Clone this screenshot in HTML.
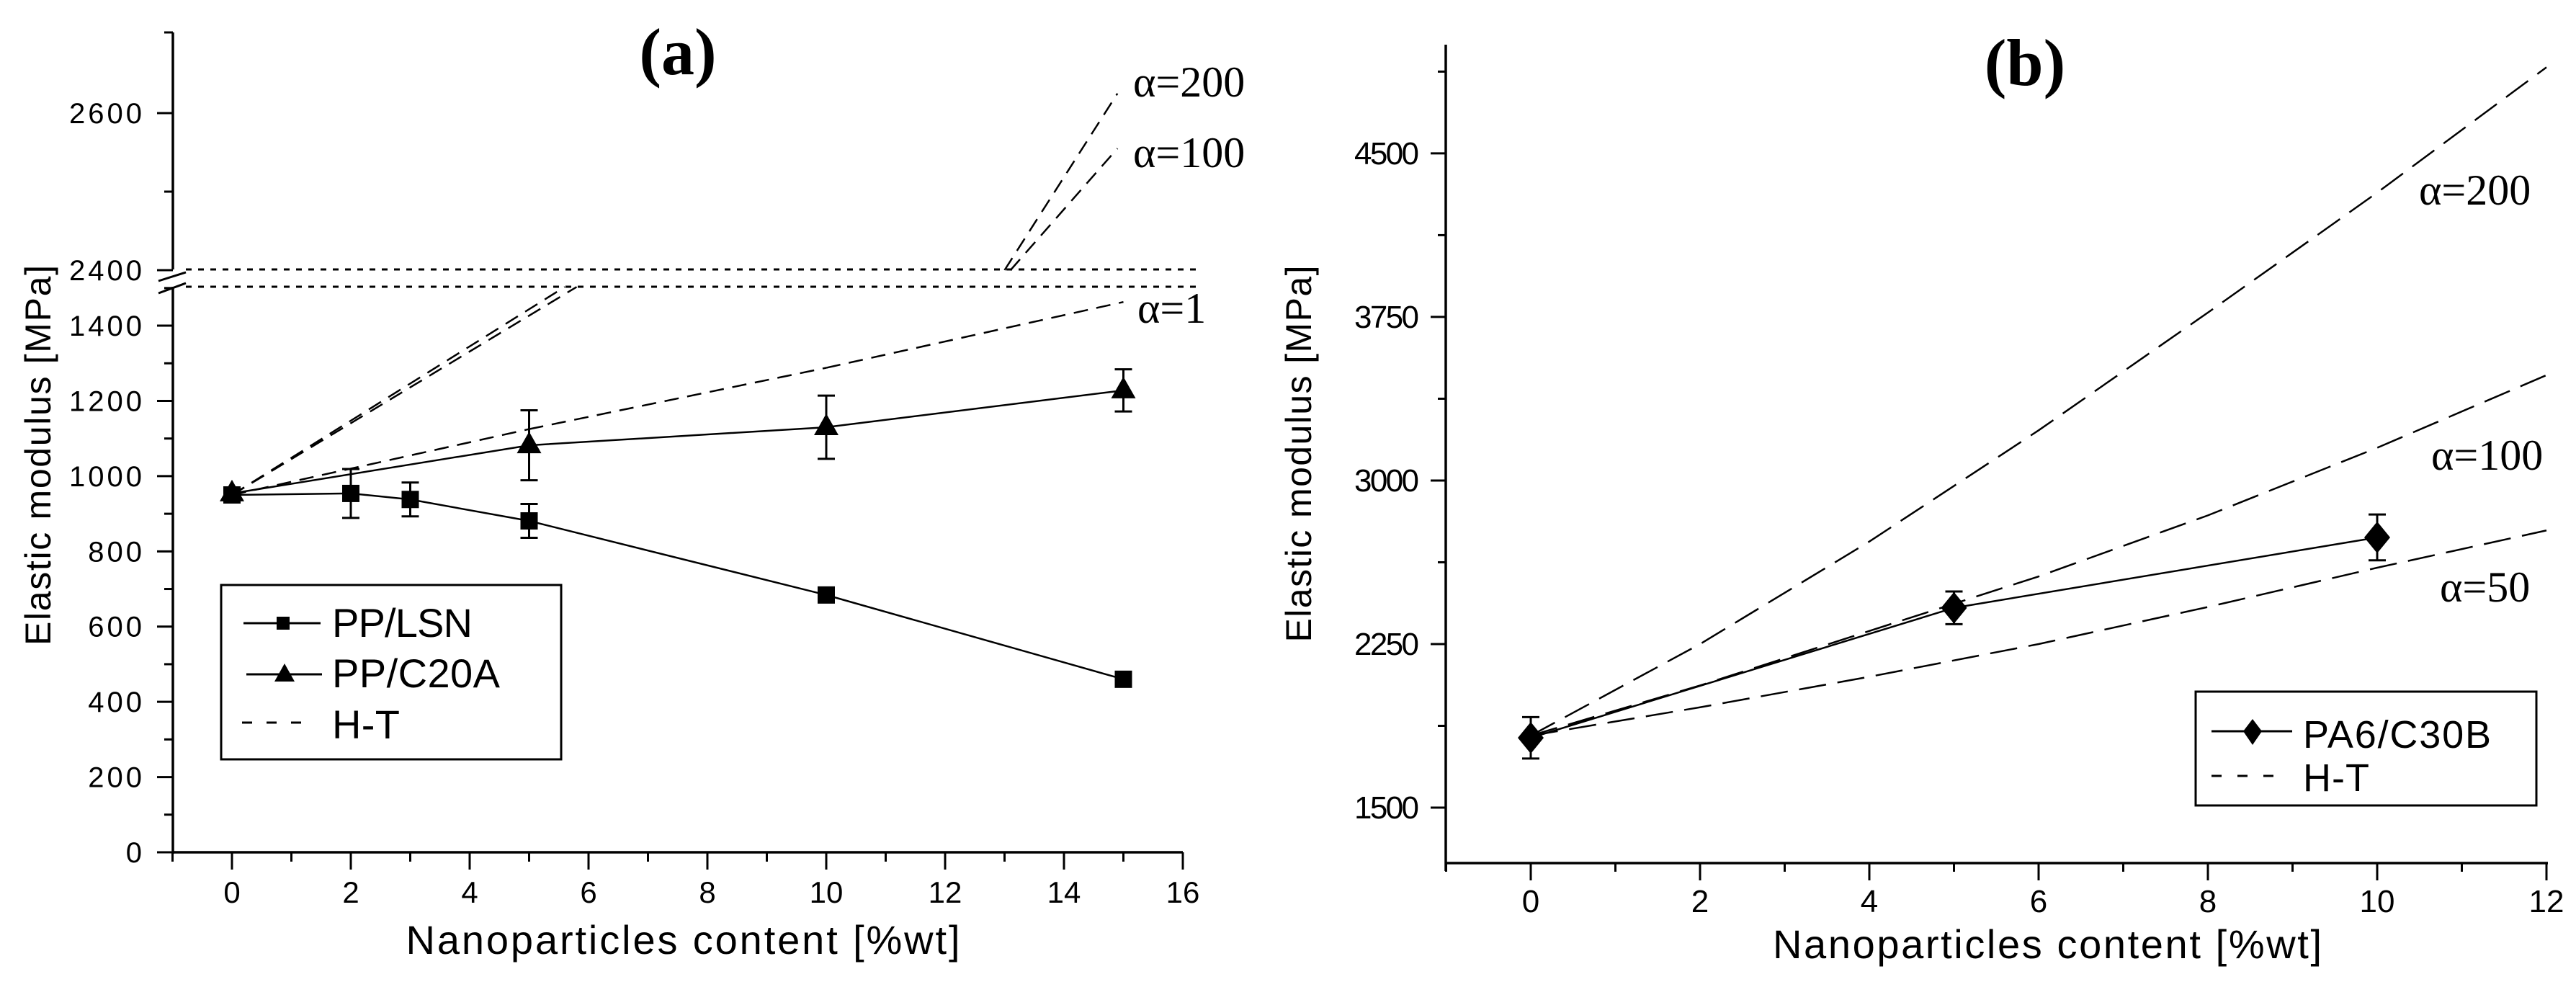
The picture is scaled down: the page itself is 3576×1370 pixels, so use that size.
<!DOCTYPE html>
<html><head><meta charset="utf-8"><style>
html,body{margin:0;padding:0;background:#fff;}
svg{display:block;}
text{fill:#000;}
.sans{font-family:"Liberation Sans",sans-serif;}
.serif{font-family:"Liberation Serif",serif;}
</style></head>
<body>
<svg id="fig" width="3576" height="1370" viewBox="0 0 3576 1370" xmlns="http://www.w3.org/2000/svg">
<g id="pa"></g>
<g id="pb"></g>
</svg>
<script>
// ---------- Panel (a) data ----------
const lsnX = [0, 2, 3, 5, 10, 15];
const lsnY = [950, 954, 938, 881, 684, 460];
const lsnErr = [12, 65, 45, 45, 10, 15];
const c20aX = [0, 5, 10, 15];
const c20aY = [954, 1082, 1130, 1228];
const c20aErr = [10, 93, 84, 56];
const ht1X = [0, 5, 10, 15];
const ht1Y = [950, 1125, 1288, 1463];
const ht100X = [0, 5.8, 13.1, 14.9];
const ht100Y = [950, 1503, 2400, 2555];
const ht200X = [0, 5.6, 13.0, 14.9];
const ht200Y = [950, 1503, 2400, 2625];
const aLowTicks = [0, 200, 400, 600, 800, 1000, 1200, 1400];
const aHighTicks = [2400, 2600];
const aXTicks = [0, 2, 4, 6, 8, 10, 12, 14, 16];
// ---------- Panel (b) data ----------
const pa6X = [0, 5, 10];
const pa6Y = [1820, 2416, 2739];
const pa6Err = [95, 75, 105];
const htbX = [0, 2, 4, 6, 8, 10, 12];
const htb200 = [1830, 2250, 2720, 3230, 3770, 4320, 4895];
const htb100 = [1830, 2060, 2310, 2560, 2840, 3150, 3483];
const htb50 = [1830, 1960, 2100, 2250, 2420, 2600, 2771];
const bYTicks = [1500, 2250, 3000, 3750, 4500];
const bXTicks = [0, 2, 4, 6, 8, 10, 12];

const NS = "http://www.w3.org/2000/svg";
function mk(tag, attrs, parent){
  const e = document.createElementNS(NS, tag);
  for (const k in attrs) e.setAttribute(k, attrs[k]);
  parent.appendChild(e);
  return e;
}
const pa = document.getElementById('pa');
const pb = document.getElementById('pb');

const BRK_LO = 1503;
function xa(x){ return 322 + x * 82.5; }
function ya(v){ return v <= BRK_LO ? 1183 - v * 0.5221 : 375 - (v - 2400) * 1.09; }
function xb(x){ return 2125 + x * 117.5; }
function yb(v){ return 1121 - (v - 1500) * 0.3027; }

let e;
e = mk('line', {x1:240, y1:1183, x2:1642, y2:1183, stroke:'#000', 'stroke-width':3.5}, pa);


e = mk('line', {x1:240, y1:1185, x2:240, y2:398, stroke:'#000', 'stroke-width':3.5}, pa);


e = mk('line', {x1:240, y1:374, x2:240, y2:45, stroke:'#000', 'stroke-width':3.5}, pa);


e = mk('line', {x1:228, y1:45, x2:240, y2:45, stroke:'#000', 'stroke-width':3}, pa);


[[220,390,258,378],[220,407,258,393]].forEach(s=>{
  const b = mk('line', {x1:s[0], y1:s[1], x2:s[2], y2:s[3], stroke:'#000', 'stroke-width':3}, pa);
  
  
});
[374, 398].forEach(y=>{
  const b = mk('line', {x1:258, y1:y, x2:1660, y2:y, stroke:'#000', 'stroke-width':3, 'stroke-dasharray':'8 9'}, pa);
  
  
});
aLowTicks.forEach(v=>{
  const t = mk('line', {x1:218, y1:ya(v), x2:240, y2:ya(v), stroke:'#000', 'stroke-width':3}, pa);
  
  
  const l = mk('text', {x:201, y:ya(v)+14, 'text-anchor':'end', 'font-size':40, 'letter-spacing':4, class:'sans'}, pa);
  l.textContent = v;
  
  
  if (v + 100 <= 1500){
    const m = mk('line', {x1:228, y1:ya(v+100), x2:240, y2:ya(v+100), stroke:'#000', 'stroke-width':3}, pa);
    
    
  }
});
aHighTicks.forEach(v=>{
  const t = mk('line', {x1:218, y1:ya(v), x2:240, y2:ya(v), stroke:'#000', 'stroke-width':3}, pa);
  
  
  const l = mk('text', {x:201, y:ya(v)+14, 'text-anchor':'end', 'font-size':40, 'letter-spacing':4, class:'sans'}, pa);
  l.textContent = v;
  
  
});
e = mk('line', {x1:228, y1:ya(2500), x2:240, y2:ya(2500), stroke:'#000', 'stroke-width':3}, pa);


for (let x=-1; x<=16; x++){
  const major = aXTicks.includes(x);
  const t = mk('line', {x1:xa(x), y1:1183, x2:xa(x), y2:major?1207:1196, stroke:'#000', 'stroke-width':3}, pa);
  
  
}
aXTicks.forEach(x=>{
  const l = mk('text', {x:xa(x), y:1253, 'text-anchor':'middle', 'font-size':42, class:'sans'}, pa);
  l.textContent = x;
  
  
});
e = mk('text', {x:941, y:103, 'text-anchor':'middle', 'font-size':92, 'font-weight':'bold', class:'serif'}, pa);
e.textContent = '(a)';


e = mk('text', {x:0, y:0, 'text-anchor':'middle', 'font-size':50, class:'sans', transform:'translate(70,632) rotate(-90)', textLength:528}, pa);
e.textContent = 'Elastic modulus [MPa]';


e = mk('text', {x:948, y:1324, 'text-anchor':'middle', 'font-size':56, class:'sans', textLength:769}, pa);
e.textContent = 'Nanoparticles content [%wt]';



function segCurve(xs, ys, parent, name){
  for (let i=0;i<xs.length-1;i++){
    const lo1 = ys[i] <= BRK_LO, lo2 = ys[i+1] <= BRK_LO;
    if (lo1 !== lo2) continue;
    const s = mk('line', {x1:xa(xs[i]), y1:ya(ys[i]), x2:xa(xs[i+1]), y2:ya(ys[i+1]), stroke:'#000', 'stroke-width':2.5, 'stroke-dasharray':'20 12'}, parent);
    
    
  }
}
segCurve(ht1X, ht1Y, pa, 'ht-alpha1-line');
segCurve(ht100X, ht100Y, pa, 'ht-alpha100-line');
segCurve(ht200X, ht200Y, pa, 'ht-alpha200-line');

function polyline(xs, ys, fx, fy, parent, name){
  const p = mk('polyline', {points: xs.map((x,i)=>fx(x)+','+fy(ys[i])).join(' '), fill:'none', stroke:'#000', 'stroke-width':2.5}, parent);
  
  
}
function errbar(x, v, err, fx, fy, parent, name){
  const g = mk('g', {stroke:'#000', 'stroke-width':3}, parent);
  
  
  const X = fx(x), t = fy(v+err), b = fy(v-err);
  mk('line', {x1:X, y1:t, x2:X, y2:b}, g);
  mk('line', {x1:X-12, y1:t, x2:X+12, y2:t}, g);
  mk('line', {x1:X-12, y1:b, x2:X+12, y2:b}, g);
}
polyline(lsnX, lsnY, xa, ya, pa, 'pp-lsn-line');
polyline(c20aX, c20aY, xa, ya, pa, 'pp-c20a-line');
lsnX.forEach((x,i)=>{
  errbar(x, lsnY[i], lsnErr[i], xa, ya, pa, 'pp-lsn-errorbar');
  const m = mk('rect', {x:xa(x)-12, y:ya(lsnY[i])-12, width:24, height:24, fill:'#000'}, pa);
  
  
});
c20aX.forEach((x,i)=>{
  errbar(x, c20aY[i], c20aErr[i], xa, ya, pa, 'pp-c20a-errorbar');
  const X = xa(x), Y = ya(c20aY[i]);
  const m = mk('polygon', {points:`${X},${Y-19} ${X-17},${Y+11} ${X+17},${Y+11}`, fill:'#000'}, pa);
  
  
});
[['α=200',1573,134],['α=100',1573,232],['α=1',1579,448]].forEach(a=>{
  const l = mk('text', {x:a[1], y:a[2], 'font-size':60, class:'serif'}, pa);
  l.textContent = a[0];
  
  
});
const lga = mk('g', {}, pa);


mk('rect', {x:307, y:812, width:472, height:242, fill:'none', stroke:'#000', 'stroke-width':3}, lga);
mk('line', {x1:338, y1:865, x2:445, y2:865, stroke:'#000', 'stroke-width':3}, lga);
mk('rect', {x:384, y:856, width:18, height:18, fill:'#000'}, lga);
mk('line', {x1:342, y1:936, x2:447, y2:936, stroke:'#000', 'stroke-width':3}, lga);
mk('polygon', {points:'395,921 381,946 409,946', fill:'#000'}, lga);
mk('line', {x1:336, y1:1003, x2:420, y2:1003, stroke:'#000', 'stroke-width':3, 'stroke-dasharray':'14 20'}, lga);
[['PP/LSN',884,195],['PP/C20A',954,233],['H-T',1025,94]].forEach(t=>{
  const l = mk('text', {x:461, y:t[1], 'font-size':56, class:'sans', textLength:t[2]}, lga);
  l.textContent = t[0];
  
  
});

// ===== Panel B =====
e = mk('line', {x1:2007, y1:1198, x2:3537, y2:1198, stroke:'#000', 'stroke-width':3.5}, pb);


e = mk('line', {x1:2007, y1:1209, x2:2007, y2:62, stroke:'#000', 'stroke-width':3.5}, pb);


bYTicks.forEach(v=>{
  const t = mk('line', {x1:1986, y1:yb(v), x2:2007, y2:yb(v), stroke:'#000', 'stroke-width':3}, pb);
  
  
  const l = mk('text', {x:1970, y:yb(v)+15, 'text-anchor':'end', 'font-size':44, class:'sans', textLength:90}, pb);
  l.textContent = v;
  
  
  const m = mk('line', {x1:1996, y1:yb(v+375), x2:2007, y2:yb(v+375), stroke:'#000', 'stroke-width':3}, pb);
  
  
});
for (let x=-1; x<=12; x++){
  const major = bXTicks.includes(x);
  const t = mk('line', {x1:xb(x), y1:1198, x2:xb(x), y2:major?1222:1210, stroke:'#000', 'stroke-width':3}, pb);
  
  
}
bXTicks.forEach(x=>{
  const l = mk('text', {x:xb(x), y:1266, 'text-anchor':'middle', 'font-size':44, class:'sans'}, pb);
  l.textContent = x;
  
  
});
e = mk('text', {x:2811, y:118, 'text-anchor':'middle', 'font-size':92, 'font-weight':'bold', class:'serif'}, pb);
e.textContent = '(b)';


e = mk('text', {x:0, y:0, 'text-anchor':'middle', 'font-size':50, class:'sans', transform:'translate(1820,630) rotate(-90)', textLength:523}, pb);
e.textContent = 'Elastic modulus [MPa]';


e = mk('text', {x:2842, y:1330, 'text-anchor':'middle', 'font-size':56, class:'sans', textLength:762}, pb);
e.textContent = 'Nanoparticles content [%wt]';


[[htb200,'ht-alpha200-line-b'],[htb100,'ht-alpha100-line-b'],[htb50,'ht-alpha50-line-b']].forEach(c=>{
  const p = mk('polyline', {points: htbX.map((x,i)=>xb(x)+','+yb(c[0][i])).join(' '), fill:'none', stroke:'#000', 'stroke-width':2.5, 'stroke-dasharray':'38 16'}, pb);
  
  
});
polyline(pa6X, pa6Y, xb, yb, pb, 'pa6-c30b-line');
pa6X.forEach((x,i)=>{
  errbar(x, pa6Y[i], pa6Err[i], xb, yb, pb, 'pa6-c30b-errorbar');
  const X = xb(x), Y = yb(pa6Y[i]);
  const m = mk('polygon', {points:`${X},${Y-22} ${X+18},${Y} ${X},${Y+22} ${X-18},${Y}`, fill:'#000'}, pb);
  
  
});
[['α=200',3358,284],['α=100',3375,652],['α=50',3387,835]].forEach(a=>{
  const l = mk('text', {x:a[1], y:a[2], 'font-size':60, class:'serif'}, pb);
  l.textContent = a[0];
  
  
});
const lgb = mk('g', {}, pb);


mk('rect', {x:3048, y:960, width:473, height:158, fill:'none', stroke:'#000', 'stroke-width':3}, lgb);
mk('line', {x1:3070, y1:1015, x2:3182, y2:1015, stroke:'#000', 'stroke-width':3}, lgb);
mk('polygon', {points:'3127,998 3140,1015 3127,1034 3114,1015', fill:'#000'}, lgb);
mk('line', {x1:3070, y1:1077, x2:3160, y2:1077, stroke:'#000', 'stroke-width':3, 'stroke-dasharray':'14 22'}, lgb);
[['PA6/C30B',1038,261],['H-T',1098,92]].forEach(t=>{
  const l = mk('text', {x:3197, y:t[1], 'font-size':54, class:'sans', textLength:t[2]}, lgb);
  l.textContent = t[0];
  
  
});
</script>
</body></html>
